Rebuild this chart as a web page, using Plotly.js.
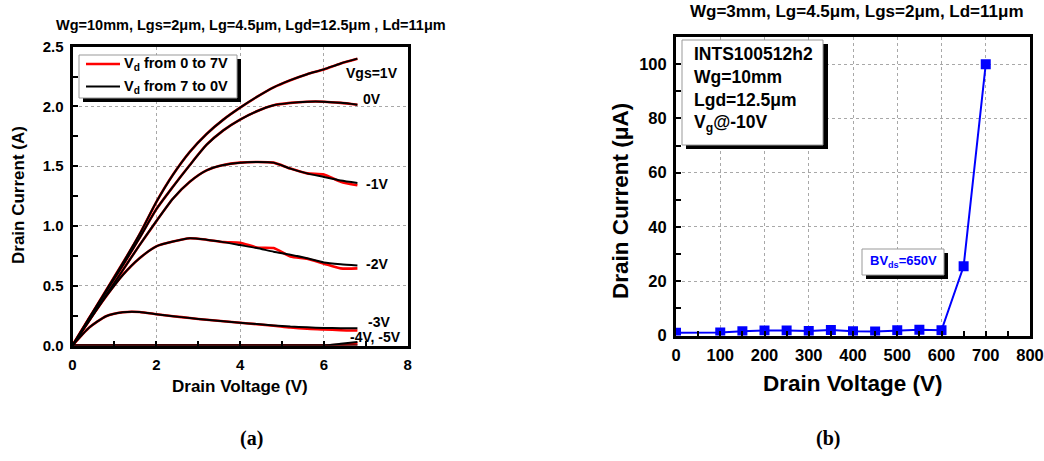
<!DOCTYPE html>
<html>
<head>
<meta charset="utf-8">
<script src="https://cdn.plot.ly/plotly-3.0.1.min.js"></script>
<style>html,body{margin:0;padding:0;background:#fff;}#chart{width:1044px;height:461px;}</style>
</head>
<body>
<div id="chart"></div>
<script>
// ---------- Data: panel (a) output characteristics ----------
const V_a = [0,0.4,0.8,1.2,1.6,2.0,2.4,2.8,3.2,3.6,4.0,4.4,4.8,5.2,5.6,6.0,6.4,6.8];
// Vgs = 1V
const fwd_p1 = [0,0.23,0.46,0.69,0.93,1.20,1.43,1.62,1.77,1.89,1.99,2.08,2.16,2.22,2.27,2.31,2.36,2.40];
const rev_p1 = [0,0.23,0.46,0.69,0.93,1.20,1.43,1.62,1.77,1.89,1.99,2.08,2.16,2.22,2.27,2.31,2.36,2.40];
// Vgs = 0V
const fwd_0  = [0,0.23,0.45,0.67,0.90,1.14,1.33,1.51,1.68,1.80,1.89,1.96,2.01,2.03,2.04,2.04,2.03,2.015];
const rev_0  = [0,0.23,0.45,0.67,0.90,1.14,1.33,1.51,1.68,1.80,1.89,1.96,2.01,2.03,2.04,2.04,2.03,2.015];
// Vgs = -1V
const fwd_m1 = [0,0.21,0.42,0.63,0.84,1.04,1.23,1.37,1.465,1.51,1.53,1.535,1.53,1.48,1.44,1.43,1.37,1.34];
const rev_m1 = [0,0.21,0.42,0.63,0.84,1.04,1.23,1.37,1.465,1.51,1.53,1.535,1.53,1.48,1.44,1.41,1.38,1.36];
// Vgs = -2V
const fwd_m2 = [0,0.21,0.41,0.59,0.73,0.83,0.87,0.897,0.885,0.865,0.86,0.82,0.815,0.745,0.725,0.685,0.645,0.645];
const rev_m2 = [0,0.21,0.41,0.59,0.73,0.83,0.87,0.897,0.885,0.865,0.84,0.815,0.785,0.76,0.73,0.695,0.68,0.67];
// Vgs = -3V
const fwd_m3 = [0,0.15,0.245,0.278,0.28,0.262,0.245,0.23,0.215,0.203,0.19,0.178,0.165,0.15,0.14,0.135,0.128,0.125];
const rev_m3 = [0,0.15,0.245,0.278,0.28,0.262,0.245,0.23,0.215,0.203,0.19,0.18,0.168,0.158,0.152,0.147,0.145,0.144];
// Vgs = -4V, -5V
const fwd_m4 = [0,0,0,0,0,0,0,0,0,0,0,0,0,0,0,0,0.005,0.02];
const rev_m4 = [0,0,0,0,0,0,0,0,0,0,0,0,0,0,0,0,0.015,0.03];
const fwd_m5 = [0,0,0,0,0,0,0,0,0,0,0,0,0,0,0,0,0,0];
const rev_m5 = [0,0,0,0,0,0,0,0,0,0,0,0,0,0,0,0,0,0];
const curveLabels = ["Vgs=1V","0V","-1V","-2V","-3V","-4V, -5V"];
const legendLabels = ["V<sub>d</sub> from 0 to 7V","V<sub>d</sub> from 7 to 0V"];

// ---------- Data: panel (b) off-state breakdown ----------
const V_b = [0,100,150,200,250,300,350,400,450,500,550,600,650,700];
const I_b = [1.0,1.1,1.6,1.85,1.8,1.65,2.0,1.6,1.5,1.9,2.15,1.9,25.5,100];

// ---------- helpers ----------
const W = 1044, H = 461;
const fx = p => p / W;
const fy = p => 1 - p / H;
const FONT = "Liberation Sans, Arial, Helvetica, sans-serif";
const SERIF = "Liberation Serif, Times New Roman, serif";

const fwdSets = [fwd_p1, fwd_0, fwd_m1, fwd_m2, fwd_m3, fwd_m4, fwd_m5];
const revSets = [rev_p1, rev_0, rev_m1, rev_m2, rev_m3, rev_m4, rev_m5];

const traces = [];
fwdSets.forEach(ys => traces.push({
  x: V_a, y: ys, xaxis: 'x', yaxis: 'y', mode: 'lines', type: 'scatter',
  line: {color: '#ff0000', width: 2.6, shape: 'spline', smoothing: 0.6},
  hoverinfo: 'skip', showlegend: false
}));
revSets.forEach(ys => traces.push({
  x: V_a, y: ys, xaxis: 'x', yaxis: 'y', mode: 'lines', type: 'scatter',
  line: {color: '#000000', width: 2, shape: 'spline', smoothing: 0.6},
  hoverinfo: 'skip', showlegend: false
}));
traces.push({
  x: V_b, y: I_b, xaxis: 'x2', yaxis: 'y2', mode: 'lines+markers', type: 'scatter',
  line: {color: '#0000ff', width: 2},
  marker: {symbol: 'square', size: 10, color: '#0000ff'},
  showlegend: false
});

function axisCommon(fontSize) {
  return {
    showline: true, linewidth: 3, linecolor: '#000', mirror: true,
    ticks: 'inside', ticklen: 5, tickwidth: 2, tickcolor: '#000',
    showgrid: true, gridcolor: '#a8a8a8', griddash: 'dot', gridwidth: 1,
    zeroline: false, fixedrange: true,
    tickfont: {family: FONT, size: fontSize, color: '#000', weight: 'bold'}
  };
}

const layout = {
  width: W, height: H,
  margin: {l: 0, r: 0, t: 0, b: 0, pad: 0},
  paper_bgcolor: '#fff', plot_bgcolor: '#fff',
  showlegend: false,
  xaxis: Object.assign(axisCommon(15), {
    domain: [fx(72.5), fx(407.7)], range: [0, 8], anchor: 'y',
    tick0: 0, dtick: 2, ticklabelstandoff: 3,
    minor: {ticks: 'inside', dtick: 1, ticklen: 5, tickwidth: 2, tickcolor: '#000', showgrid: false}
  }),
  yaxis: Object.assign(axisCommon(15), {
    domain: [fy(345.5), fy(46.7)], range: [0, 2.5], anchor: 'x',
    tick0: 0, dtick: 0.5, tickformat: '.1f', ticklabelstandoff: 3,
    minor: {ticks: 'inside', dtick: 0.25, ticklen: 5, tickwidth: 2, tickcolor: '#000', showgrid: false}
  }),
  xaxis2: Object.assign(axisCommon(16.5), {
    domain: [fx(676), fx(1030)], range: [0, 800], anchor: 'y2',
    tick0: 0, dtick: 100, ticklabelstandoff: 3,
    minor: {ticks: 'inside', dtick: 50, ticklen: 5, tickwidth: 2, tickcolor: '#000', showgrid: false}
  }),
  yaxis2: Object.assign(axisCommon(16.5), {
    domain: [fy(335.5), fy(37)], range: [0, 110], anchor: 'x2',
    tick0: 0, dtick: 20, ticklabelstandoff: 3,
    minor: {ticks: 'inside', dtick: 10, ticklen: 5, tickwidth: 2, tickcolor: '#000', showgrid: false}
  }),
  shapes: [
    // legend box (a) with shadow
    {type: 'rect', xref: 'paper', yref: 'paper', x0: fx(83), x1: fx(241), y0: fy(59), y1: fy(102),
     fillcolor: '#000', line: {width: 0}, layer: 'above'},
    {type: 'rect', xref: 'paper', yref: 'paper', x0: fx(79), x1: fx(237), y0: fy(55), y1: fy(98),
     fillcolor: '#fff', line: {color: '#999', width: 1}, layer: 'above'},
    {type: 'line', xref: 'paper', yref: 'paper', x0: fx(86), x1: fx(120), y0: fy(64), y1: fy(64),
     line: {color: '#ff0000', width: 2.6}, layer: 'above'},
    {type: 'line', xref: 'paper', yref: 'paper', x0: fx(86), x1: fx(120), y0: fy(86.5), y1: fy(86.5),
     line: {color: '#000', width: 2}, layer: 'above'},
    // info box (b) with shadow
    {type: 'rect', xref: 'paper', yref: 'paper', x0: fx(686), x1: fx(828), y0: fy(44), y1: fy(149),
     fillcolor: '#000', line: {width: 0}, layer: 'above'},
    {type: 'rect', xref: 'paper', yref: 'paper', x0: fx(682), x1: fx(823), y0: fy(40), y1: fy(145),
     fillcolor: '#fff', line: {color: '#999', width: 1}, layer: 'above'},
    // BVds box with shadow
    {type: 'rect', xref: 'paper', yref: 'paper', x0: fx(866), x1: fx(948), y0: fy(253), y1: fy(279),
     fillcolor: '#000', line: {width: 0}, layer: 'above'},
    {type: 'rect', xref: 'paper', yref: 'paper', x0: fx(862), x1: fx(944), y0: fy(249), y1: fy(275),
     fillcolor: '#fff', line: {color: '#999', width: 1}, layer: 'above'}
  ],
  annotations: []
};

function ann(text, x, y, opts) {
  layout.annotations.push(Object.assign({
    text: text, xref: 'paper', yref: 'paper', x: fx(x), y: fy(y),
    xanchor: 'center', yanchor: 'middle', showarrow: false,
    font: {family: FONT, size: 14, color: '#000', weight: 'bold'}
  }, opts || {}));
}

// titles
ann('Wg=10mm, Lgs=2\u03bcm, Lg=4.5\u03bcm, Lgd=12.5\u03bcm , Ld=11\u03bcm', 251, 25,
    {font: {family: FONT, size: 14.5, color: '#000', weight: 'bold'}});
ann('Wg=3mm, Lg=4.5\u03bcm, Lgs=2\u03bcm, Ld=11\u03bcm', 857, 12,
    {font: {family: FONT, size: 17, color: '#000', weight: 'bold'}});
// axis titles (a)
ann('Drain Voltage (V)', 240, 386, {font: {family: FONT, size: 17, color: '#000', weight: 'bold'}});
ann('Drain Current (A)', 18, 195, {textangle: -90, font: {family: FONT, size: 17, color: '#000', weight: 'bold'}});
// axis titles (b)
ann('Drain Voltage (V)', 853, 383, {font: {family: FONT, size: 22.5, color: '#000', weight: 'bold'}});
ann('Drain Current (\u03bcA)', 620, 201, {textangle: -90, font: {family: FONT, size: 22.5, color: '#000', weight: 'bold'}});
// legend texts (a)
ann(legendLabels[0], 122, 64, {xanchor: 'left', font: {family: FONT, size: 14.5, color: '#000', weight: 'bold'}});
ann(legendLabels[1], 122, 86.5, {xanchor: 'left', font: {family: FONT, size: 14.5, color: '#000', weight: 'bold'}});
// curve labels (a)
const labelPos = [[372,73],[371.5,99],[377,184],[376.5,264],[379,321.5],[375,336.5]];
curveLabels.forEach((t, i) => ann(t, labelPos[i][0], labelPos[i][1]));
// info box text (b)
ann('INTS100512h2<br>Wg=10mm<br>Lgd=12.5\u03bcm<br>V<sub>g</sub>@-10V', 692, 89,
    {xanchor: 'left', align: 'left', font: {family: FONT, size: 17.5, color: '#000', weight: 'bold'}});
ann('BV<sub>ds</sub>=650V', 903, 261, {font: {family: FONT, size: 13, color: '#0000ff', weight: 'bold'}});
// captions
ann('(a)', 251, 438, {font: {family: SERIF, size: 20, color: '#000', weight: 'bold'}});
ann('(b)', 828, 438, {font: {family: SERIF, size: 20, color: '#000', weight: 'bold'}});

Plotly.newPlot('chart', traces, layout, {displayModeBar: false, staticPlot: true});
</script>
</body>
</html>
